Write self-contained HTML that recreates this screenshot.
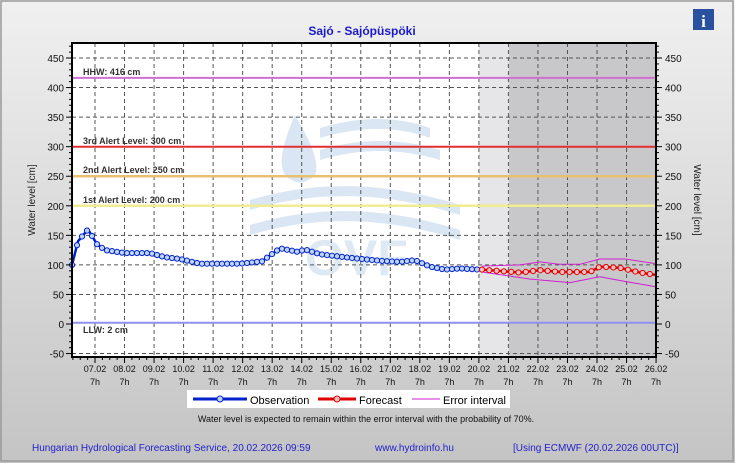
<!DOCTYPE html>
<html><head><meta charset="utf-8"><style>
body{margin:0;width:735px;height:463px;overflow:hidden;font-family:"Liberation Sans",sans-serif}
</style></head><body>
<svg width="735" height="463" xmlns="http://www.w3.org/2000/svg" font-family="Liberation Sans, sans-serif">
<defs><linearGradient id="bg" x1="0" y1="0" x2="0" y2="1"><stop offset="0" stop-color="#f0f0f0"/><stop offset="1" stop-color="#c4c4c4"/></linearGradient></defs>
<rect x="0" y="0" width="735" height="463" fill="url(#bg)"/>
<rect x="1" y="1" width="732" height="460" fill="none" stroke="#999" stroke-width="1.5"/>
<text x="362" y="35" text-anchor="middle" font-size="12" font-weight="bold" fill="#1a1acc">Sajó - Sajópüspöki</text>
<rect x="693" y="9" width="21" height="21" fill="#2a50a0"/>
<text x="703.5" y="27" text-anchor="middle" font-size="17" font-weight="bold" fill="#fff" font-family="Liberation Serif, serif">i</text>
<rect x="72" y="43" width="584" height="314" fill="#fff"/>
<rect x="479" y="43" width="30" height="314" fill="#e6e6e8"/>
<rect x="509" y="43" width="147" height="314" fill="#c8c8ca"/>
<g id="wm" fill="#d6e4f2" opacity="0.9">
<path d="M295 115 Q275 160 285 175 Q300 190 315 175 Q322 160 295 115Z"/>
<path d="M320 128 Q380 110 430 128 L430 138 Q380 120 320 138Z"/>
<path d="M320 150 Q380 132 440 150 L440 160 Q380 142 320 160Z"/>
<path d="M250 200 Q350 170 460 205 L460 215 Q350 180 250 210Z"/>
<path d="M250 225 Q350 195 460 230 L460 240 Q350 205 250 235Z"/>
<text x="305" y="275" font-size="50" font-weight="bold" fill="#dbe7f3">OVF</text>
</g>
<g id="grid" stroke="#555" stroke-dasharray="4,3" stroke-width="1"></g>
<line x1="72" y1="77.9" x2="656" y2="77.9" stroke="#d070d0" stroke-width="2"/>
<line x1="72" y1="146.7" x2="656" y2="146.7" stroke="#e03030" stroke-width="2"/>
<line x1="72" y1="176.2" x2="656" y2="176.2" stroke="#e8c070" stroke-width="2.5"/>
<line x1="72" y1="205.8" x2="656" y2="205.8" stroke="#f0ec90" stroke-width="2.5"/>
<line x1="72" y1="322.8" x2="656" y2="322.8" stroke="#9090f0" stroke-width="2"/>
<g font-size="9" fill="#333" font-weight="bold">
<text x="83" y="75">HHW: 416 cm</text>
<text x="83" y="144">3rd Alert Level: 300 cm</text>
<text x="83" y="173">2nd Alert Level: 250 cm</text>
<text x="83" y="203">1st Alert Level: 200 cm</text>
<text x="83" y="333">LLW: 2 cm</text>
</g>
<g id="series"></g>
<rect x="72" y="43" width="584" height="314" fill="none" stroke="#000" stroke-width="2"/>
<g id="ticks"></g>
<text transform="translate(35,200) rotate(-90)" text-anchor="middle" font-size="10" fill="#222">Water level [cm]</text>
<text transform="translate(694,200) rotate(90)" text-anchor="middle" font-size="10" fill="#222">Water level [cm]</text>
<rect x="187" y="390" width="323" height="18" fill="#fff"/>
<line x1="193" y1="399" x2="247" y2="399" stroke="#0022cc" stroke-width="3"/>
<circle cx="220" cy="399" r="3" fill="#c0d4f0" stroke="#0022cc"/>
<text x="250" y="404" font-size="11" fill="#000">Observation</text>
<line x1="318" y1="399" x2="356" y2="399" stroke="#e00000" stroke-width="3"/>
<circle cx="337" cy="399" r="3" fill="#f0c0c0" stroke="#e00000"/>
<text x="359" y="404" font-size="11" fill="#000">Forecast</text>
<line x1="412" y1="399" x2="440" y2="399" stroke="#d020d0" stroke-width="1"/>
<text x="443" y="404" font-size="11" fill="#000">Error interval</text>
<text x="366" y="422" text-anchor="middle" font-size="9" fill="#111">Water level is expected to remain within the error interval with the probability of 70%.</text>
<g font-size="10" fill="#2222cc">
<text x="32" y="451">Hungarian Hydrological Forecasting Service, 20.02.2026 09:59</text>
<text x="375" y="451">www.hydroinfo.hu</text>
<text x="513" y="451">[Using ECMWF (20.02.2026  00UTC)]</text>
</g>
</svg>
<script>
var NS="http://www.w3.org/2000/svg";
function el(p,t,a,txt){var e=document.createElementNS(NS,t);for(var k in a)e.setAttribute(k,a[k]);if(txt!=null)e.textContent=txt;document.getElementById(p).appendChild(e);return e;}
function Y(v){return 324-v*0.5911;}
var dates=["07.02","08.02","09.02","10.02","11.02","12.02","13.02","14.02","15.02","16.02","17.02","18.02","19.02","20.02","21.02","22.02","23.02","24.02","25.02","26.02"];
for(var i=0;i<20;i++){var x=95+i*29.53;
 if(i<19)el("grid","line",{x1:x,y1:43,x2:x,y2:357});
 el("ticks","line",{x1:x,y1:357,x2:x,y2:363,stroke:"#000"});
 for(var j=1;j<4;j++){var xx=x-j*7.38;if(xx>72)el("ticks","line",{x1:xx,y1:357,x2:xx,y2:360,stroke:"#000"});}
 el("ticks","text",{x:x,y:372,"text-anchor":"middle","font-size":"9",fill:"#111"},dates[i]);
 el("ticks","text",{x:x,y:385,"text-anchor":"middle","font-size":"9",fill:"#111"},"7h");}
for(var v=-50;v<=450;v+=50){var y=Y(v);
 if(v!=0)el("grid","line",{x1:72,y1:y,x2:656,y2:y});
 el("ticks","line",{x1:66,y1:y,x2:72,y2:y,stroke:"#000"});
 el("ticks","line",{x1:656,y1:y,x2:662,y2:y,stroke:"#000"});
 el("ticks","text",{x:64,y:y+4,"text-anchor":"end","font-size":"10",fill:"#111"},v);
 el("ticks","text",{x:665,y:y+4,"font-size":"10",fill:"#111"},v);
 for(var j=1;j<5;j++){var yy=Y(v+j*10);if(yy>43){el("ticks","line",{x1:69,y1:yy,x2:72,y2:yy,stroke:"#000"});el("ticks","line",{x1:656,y1:yy,x2:659,y2:yy,stroke:"#000"});}}}
function interp(k,x){for(var i=0;i<k.length-1;i++){if(x>=k[i][0]&&x<=k[i+1][0]){var t=(x-k[i][0])/(k[i+1][0]-k[i][0]);return k[i][1]+t*(k[i+1][1]-k[i][1]);}}return k[k.length-1][1];}
var obs=[[72,100],[78,140],[88,160],[97,135],[105,125],[125,120],[150,120],[165,113],[180,110],[200,102],[240,102],[262,106],[280,128],[298,122],[305,126],[320,118],[350,112],[380,107],[400,105],[415,108],[430,97],[445,92],[460,94],[479,92]];
var fc=[[482,92],[520,87],[540,91],[560,88],[590,88],[600,97],[620,95],[640,87],[656,83]];
var up=[[482,98],[520,100],[540,105],[560,101],[580,101],[600,110],[625,110],[656,102]];
var lo=[[482,88],[530,76],[570,70],[600,80],[625,72],[656,63]];
function line(k,c,w){var s="";for(var x=k[0][0];x<=k[k.length-1][0];x+=2)s+=x+","+Y(interp(k,x))+" ";el("series","polyline",{points:s,fill:"none",stroke:c,"stroke-width":w});}
line(up,"#d020d0",1);line(lo,"#d020d0",1);
line(obs,"#0022cc",2.5);line(fc,"#e00000",2.5);
for(var x=72;x<=479;x+=5)el("series","circle",{cx:x,cy:Y(interp(obs,x)),r:2.6,fill:"#c0d4f0",stroke:"#0022cc"});
for(var x=482;x<=656;x+=7.3)el("series","circle",{cx:x,cy:Y(interp(fc,x)),r:2.6,fill:"#f0c0c0",stroke:"#e00000"});
</script>
</body></html>
